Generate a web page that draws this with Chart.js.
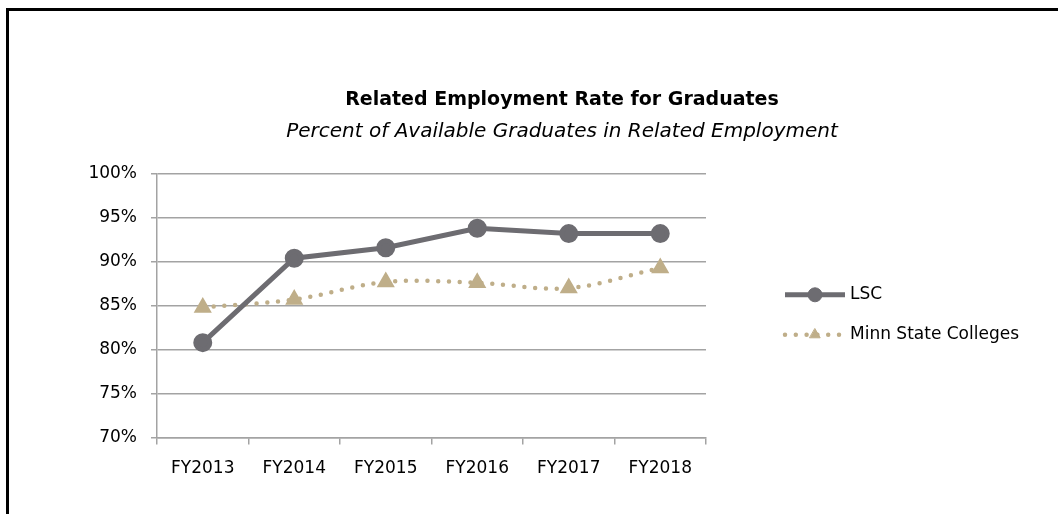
<!DOCTYPE html>
<html>
<head>
<meta charset="utf-8">
<script src="https://cdn.jsdelivr.net/npm/chart.js@4/dist/chart.umd.min.js"></script>
<style>
  html, body { margin: 0; padding: 0; background: #fff; }
  #frame { position: absolute; left: 6px; top: 8px; right: 0; bottom: 0;
           border-top: 3px solid #000; border-left: 3px solid #000; }
  #c { position: absolute; left: 0; top: 0; }
</style>
</head>
<body>
<div id="frame"></div>
<canvas id="c" width="1058" height="514"></canvas>
<script>
const years = ['FY2013', 'FY2014', 'FY2015', 'FY2016', 'FY2017', 'FY2018'];
const lscRate = [80.8, 90.4, 91.6, 93.8, 93.2, 93.2];
const minnStateRate = [84.8, 85.7, 87.7, 87.6, 87.0, 89.3];
const yTicks = [70, 75, 80, 85, 90, 95, 100];

const FONT = "'DejaVu Sans', sans-serif";
const GRID = '#a3a3a3';

// legend on the right: line sample + marker, like Excel's
const sideLegend = {
    id: 'sideLegend',
    afterDraw(chart) {
        const ctx = chart.ctx;
        const x0 = chart.chartArea.right + 79;
        let y = chart.chartArea.top + 121;
        chart.data.datasets.forEach(ds => {
            ctx.save();
            ctx.strokeStyle = ds.borderColor;
            ctx.lineWidth = ds.borderWidth;
            ctx.lineCap = ds.borderCapStyle || 'butt';
            ctx.setLineDash(ds.borderDash || []);
            ctx.beginPath();
            ctx.moveTo(x0, y);
            ctx.lineTo(x0 + 60, y);
            ctx.stroke();
            ctx.setLineDash([]);
            ctx.fillStyle = ds.pointBackgroundColor;
            ctx.strokeStyle = ds.pointBorderColor;
            ctx.lineWidth = 1;
            Chart.helpers.drawPoint(ctx, { pointStyle: ds.pointStyle, radius: ds.pointRadius, borderWidth: 1 }, x0 + 30, y);
            ctx.fillStyle = '#000';
            ctx.font = '17px ' + FONT;
            ctx.textAlign = 'left';
            ctx.textBaseline = 'middle';
            ctx.fillText(ds.label, x0 + 65, y);
            ctx.restore();
            y += 40;
        });
    }
};

new Chart(document.getElementById('c'), {
    type: 'line',
    data: {
        labels: years,
        datasets: [{
            label: 'LSC',
            data: lscRate,
            borderColor: '#6d6c71',
            borderWidth: 5,
            tension: 0,
            pointStyle: 'circle',
            pointRadius: 7,
            pointBackgroundColor: '#6d6c71',
            pointBorderColor: '#6d6c71',
            order: 1
        }, {
            label: 'Minn State Colleges',
            data: minnStateRate,
            borderColor: '#bfae89',
            borderWidth: 4.5,
            borderCapStyle: 'round',
            borderDash: [0, 10.8],
            tension: 0.35,
            pointStyle: 'triangle',
            pointRadius: 6,
            pointBackgroundColor: '#bfae89',
            pointBorderColor: '#bfae89',
            order: 2
        }]
    },
    options: {
        responsive: false,
        animation: false,
        layout: { padding: { left: 66, right: 0, top: 0, bottom: 21 } },
        plugins: {
            legend: { display: false },
            tooltip: { enabled: false },
            title: {
                display: true,
                text: 'Related Employment Rate for Graduates',
                color: '#000',
                font: { family: FONT, size: 19, weight: 'bold' },
                padding: { top: 89, bottom: 0 }
            },
            subtitle: {
                display: true,
                text: 'Percent of Available Graduates in Related Employment',
                color: '#000',
                font: { family: FONT, size: 20, style: 'italic' },
                padding: { top: 8, bottom: 30 }
            }
        },
        scales: {
            x: {
                offset: true,
                grid: { offset: true, drawOnChartArea: false, color: GRID, lineWidth: 1.5, tickLength: 7 },
                border: { color: GRID, width: 1.5 },
                ticks: { color: '#000', font: { family: FONT, size: 17 }, padding: 14, maxRotation: 0 }
            },
            y: {
                min: 70,
                max: 100,
                afterFit(scale) { scale.width = 91; },
                afterBuildTicks(scale) { scale.ticks = yTicks.map(v => ({ value: v })); },
                grid: { color: GRID, lineWidth: 1.5, tickLength: 6 },
                border: { color: GRID, width: 1.5 },
                ticks: { color: '#000', font: { family: FONT, size: 17 }, padding: 14,
                          callback: v => v + '%' }
            },
            legendSpace: {
                position: 'right',
                afterFit(scale) { scale.width = 352; },
                grid: { display: false },
                border: { display: false },
                ticks: { display: false }
            }
        }
    },
    plugins: [sideLegend]
});
</script>
</body>
</html>
